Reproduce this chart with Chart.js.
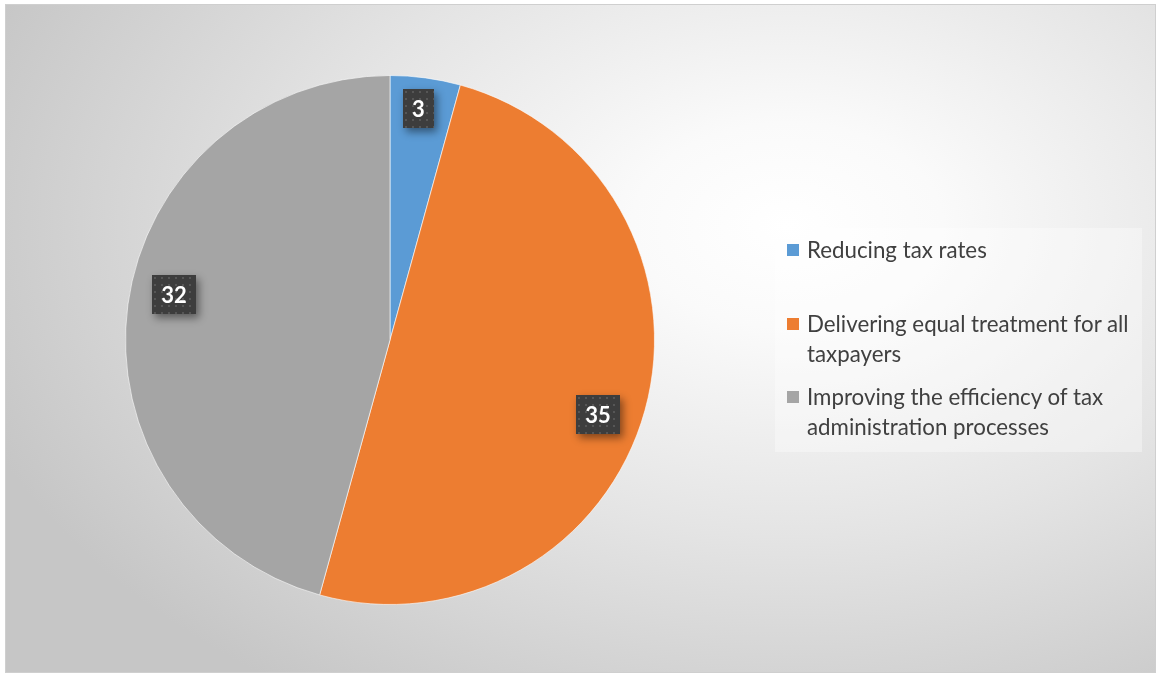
<!DOCTYPE html>
<html>
<head>
<meta charset="utf-8">
<script src="https://cdn.jsdelivr.net/npm/chart.js@4/dist/chart.umd.min.js"></script>
<style>
  html, body { margin: 0; padding: 0; background: #ffffff; }
  #frame {
    position: absolute; left: 5px; top: 4px; width: 1149px; height: 667px;
    border: 1px solid #cfcfcf;
    background: radial-gradient(ellipse 75% 85% at 68% 33%, #ffffff 0%, #fafafa 18%, #e4e4e4 55%, #c6c6c6 100%);
  }
  #wrap { position: absolute; left: 0; top: 0; width: 1157px; height: 674px; }
  #legend {
    position: absolute; left: 775px; top: 228px; width: 367px; height: 224px;
    background: rgba(255,255,255,0.35);
    font-family: Lato, "Open Sans", sans-serif; font-size: 22.3px; color: #404040;
  }
  .item { position: absolute; left: 12px; width: 355px; line-height: 30px; }
  .sw { position: absolute; left: 0; top: 9px; width: 12px; height: 12px; }
  .txt { margin-left: 20px; }
</style>
</head>
<body>
<div id="frame"></div>
<div id="wrap"><canvas id="c" width="1157" height="674"></canvas></div>
<div id="legend"></div>
<script>
const categories = [
  "Reducing tax rates",
  "Delivering equal treatment for all taxpayers",
  "Improving the efficiency of tax administration processes"
];
const values = [3, 35, 32];
const colors = ["#5B9BD5", "#ED7D31", "#A5A5A5"];

// dark dotted fill used behind the value labels
function dotPattern(ctx) {
  const p = document.createElement("canvas");
  p.width = 7; p.height = 7;
  const g = p.getContext("2d");
  g.fillStyle = "#3d3d3d";
  g.fillRect(0, 0, 7, 7);
  g.fillStyle = "#565656";
  g.fillRect(2, 2, 2, 2);
  return ctx.createPattern(p, "repeat");
}

const valueBoxes = {
  id: "valueBoxes",
  afterDatasetsDraw(chart) {
    const ctx = chart.ctx;
    const meta = chart.getDatasetMeta(0);
    const fill = dotPattern(ctx);
    ctx.save();
    ctx.font = "bold 22px Lato, 'Open Sans', sans-serif";
    ctx.textAlign = "center";
    ctx.textBaseline = "middle";
    meta.data.forEach((arc, i) => {
      const { x, y, startAngle, endAngle, outerRadius } = arc.getProps(["x", "y", "startAngle", "endAngle", "outerRadius"], true);
      const sweep = endAngle - startAngle;
      const small = sweep < 0.3;
      // inside-end placement, nudged clockwise on the wide slices
      const mid = (startAngle + endAngle) / 2 + (small ? -0.014 : 0.073);
      const r = outerRadius * (small ? 0.88 : 0.835);
      const cx = x + Math.cos(mid) * r;
      const cy = y + Math.sin(mid) * r;
      const text = String(chart.data.datasets[0].data[i]);
      const w = Math.round(ctx.measureText(text).width + 18);
      const h = 39;
      const bx = Math.round(cx - w / 2), by = Math.round(cy - h / 2);
      ctx.save();
      ctx.shadowColor = "rgba(0,0,0,0.45)";
      ctx.shadowBlur = 8;
      ctx.shadowOffsetX = 3;
      ctx.shadowOffsetY = 4;
      ctx.fillStyle = "#3d3d3d";
      ctx.fillRect(bx, by, w, h);
      ctx.restore();
      ctx.save();
      ctx.translate(bx, by);
      ctx.fillStyle = fill;
      ctx.fillRect(0, 0, w, h);
      ctx.restore();
      ctx.fillStyle = "#ffffff";
      ctx.fillText(text, bx + w / 2, by + h / 2 + 1);
    });
    ctx.restore();
  }
};

new Chart(document.getElementById("c"), {
  type: "pie",
  data: {
    labels: categories,
    datasets: [{
      data: values,
      backgroundColor: colors,
      borderColor: "rgba(255,255,255,0.6)",
      borderWidth: 1
    }]
  },
  options: {
    responsive: false,
    animation: false,
    layout: { padding: { left: 125, right: 502, top: 75, bottom: 69 } },
    plugins: { legend: { display: false }, tooltip: { enabled: false } }
  },
  plugins: [valueBoxes]
});

// legend
const legend = document.getElementById("legend");
const tops = [7, 81, 154];
categories.forEach((name, i) => {
  const it = document.createElement("div");
  it.className = "item";
  it.style.top = tops[i] + "px";
  it.innerHTML = '<span class="sw" style="background:' + colors[i] + '"></span><div class="txt"></div>';
  it.querySelector(".txt").textContent = name;
  legend.appendChild(it);
});
</script>
</body>
</html>
